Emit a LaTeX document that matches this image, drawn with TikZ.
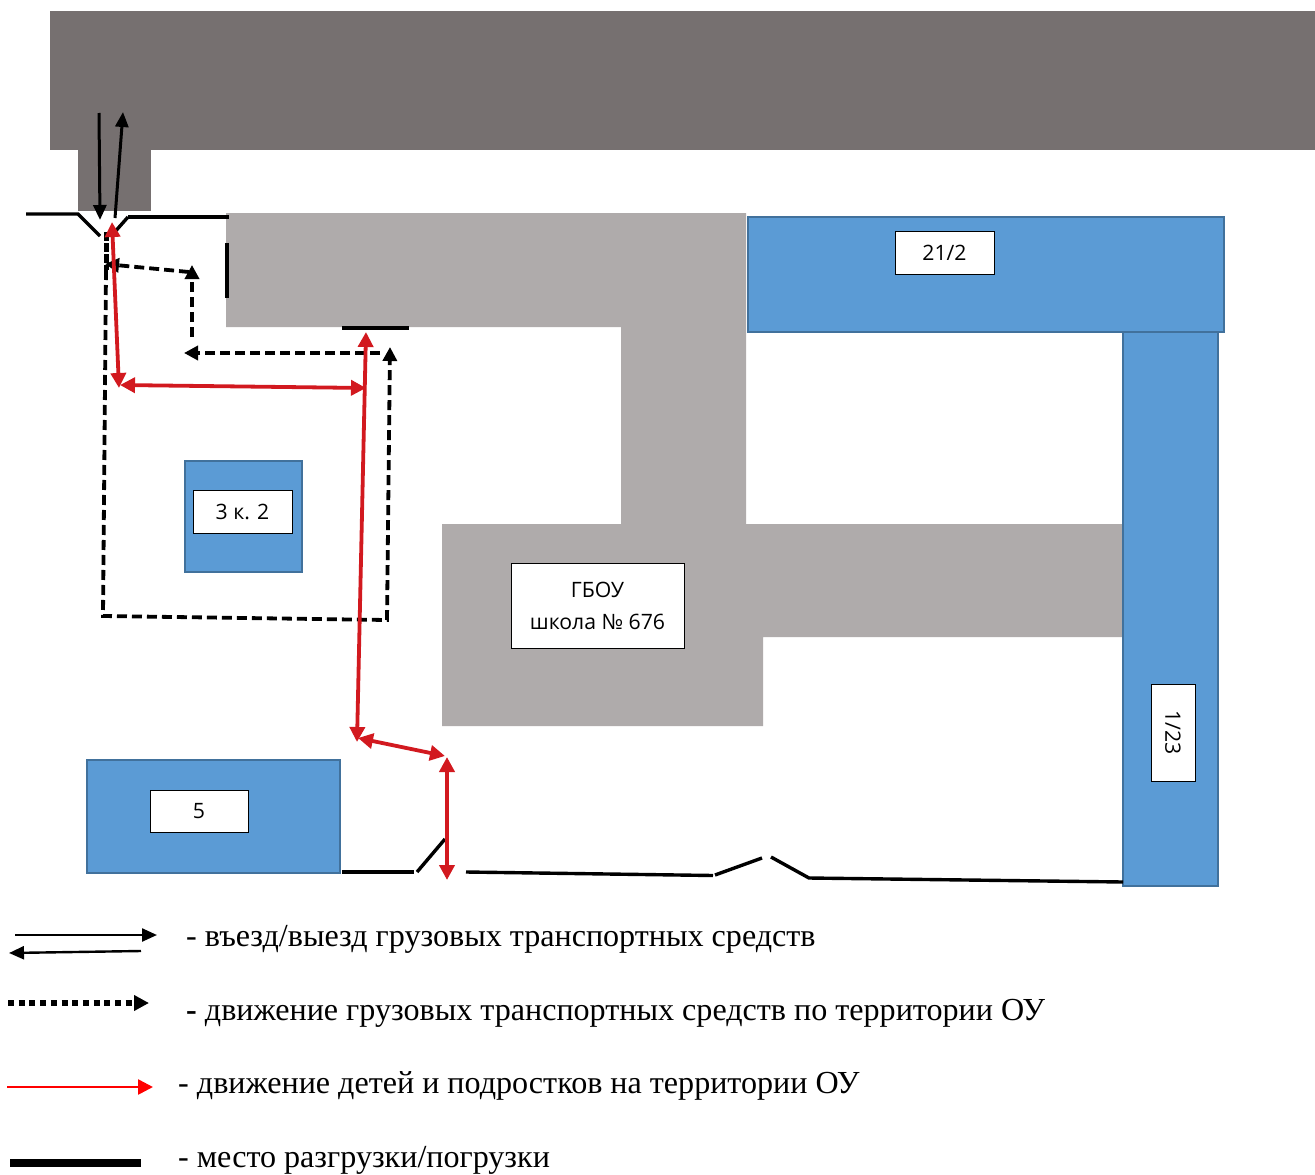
\documentclass[tikz,border=0pt]{standalone}
\usepackage{fontspec}
\setmainfont{Liberation Serif}
\newfontfamily\lblfont{Open Sans}
\usetikzlibrary{arrows.meta}
\definecolor{roadgray}{HTML}{767070}
\definecolor{schoolgray}{HTML}{AFABAB}
\definecolor{houseblue}{HTML}{5B9BD5}
\definecolor{houseedge}{HTML}{41719C}
\definecolor{kidred}{HTML}{D2191F}
\tikzset{%
    lbl/.style={draw=black,line width=1pt,fill=white,inner sep=0pt,align=center,font=\lblfont\fontsize{21.2}{32}\selectfont},
    house/.style={fill=houseblue,draw=houseedge,line width=1.6pt},
    wall/.style={line width=3.4pt},
    dock/.style={line width=4.6pt},
    lgd/.style={anchor=west,inner sep=0pt,font=\fontsize{32.1}{38}\selectfont}
}
\begin{document}
\begin{tikzpicture}[
            x=1pt,y=-1pt,
            truck/.style={line width=3pt,-{Triangle[length=15pt,width=13pt]}},
            route/.style={line width=3.8pt,dash pattern=on 10pt off 5pt,-{Triangle[length=14pt,width=14pt]}},
            kid/.style={line width=3.8pt,color=kidred,{Triangle[length=15pt,width=15pt]}-{Triangle[length=15pt,width=15pt]}}
            ]
            \useasboundingbox (0,0) rectangle (1315,1175);
            \fill[roadgray] (50,11) rectangle (1315,150);
            \fill[roadgray] (78,150) rectangle (151,211);
            \fill[schoolgray] (226,213) -- (746,213) -- (746,524) -- (1123,524) -- (1123,637) -- (763,637)
                -- (763,726) -- (442,726) -- (442,524) -- (621,524) -- (621,327) -- (226,327) -- cycle;
            \draw[house] (748,217) rectangle (1224,332);
            \draw[house] (1123,332) rectangle (1218,886);
            \draw[house] (185,461) rectangle (302,572);
            \draw[house] (87,760) rectangle (340,873);
            \node[lbl,minimum width=99pt,minimum height=43pt] (h21) at (944.5,252.5){\raisebox{-3pt}{21/2}};
            \node[lbl,minimum width=99pt,minimum height=43pt] (h3) at (242.5,511.5){\raisebox{-3pt}{3 к. 2}};
            \node[lbl,minimum width=98pt,minimum height=42pt] (h5) at (199,811){\raisebox{-3pt}{5}};
            \node[lbl,minimum width=97pt,minimum height=44pt,rotate=-90] (h1) at (1173,732.5){1/23};
            \node[lbl,minimum width=173pt,minimum height=85pt] (gbou) at (597.5,605.5){ГБОУ\\школа № 676};

            \coordinate (f1) at (26,214);
            \coordinate (f2) at (78,214);
            \coordinate (f3) at (100,236);
            \coordinate (f4) at (113,234);
            \coordinate (f5) at (128,217);
            \coordinate (f6) at (229,217);
            \coordinate (d1) at (227,243);
            \coordinate (d2) at (227,298);
            \coordinate (d3) at (342,328);
            \coordinate (d4) at (409,328);
            \draw[wall] (f1) -- (f2) -- (f3);
            \draw[wall] (f4) -- (f5);
            \draw[dock] (f5) -- (f6);
            \draw[dock] (d1) -- (d2);
            \draw[dock] (d3) -- (d4);

            \coordinate (b1) at (342,872);
            \coordinate (b2) at (414,872);
            \coordinate (b3) at (417,872);
            \coordinate (b4) at (445,839);
            \coordinate (b5) at (466,872);
            \coordinate (b6) at (713,875.5);
            \coordinate (b7) at (715,875);
            \coordinate (b8) at (762,858);
            \coordinate (b9) at (771,857);
            \coordinate (b10) at (809,878);
            \coordinate (b11) at (1123,882);
            \draw[wall] (b1) -- (b2);
            \draw[wall] (b3) -- (b4);
            \draw[wall] (b5) -- (b6);
            \draw[wall] (b7) -- (b8);
            \draw[wall] (b9) -- (b10) -- (b11);

            \coordinate (t1) at (99,113);
            \coordinate (t2) at (100,220);
            \coordinate (t3) at (115,218);
            \coordinate (t4) at (123,112);
            \draw[truck] (t1) -- (t2);
            \draw[truck] (t3) -- (t4);

            \coordinate (r1) at (106,232);
            \coordinate (r2) at (106,270);
            \coordinate (r3) at (103,616);
            \coordinate (r4) at (387,620);
            \coordinate (r5) at (390,347);
            \coordinate (r6) at (380,353);
            \coordinate (r7) at (184,353);
            \coordinate (r8) at (192,337);
            \coordinate (r9) at (192,265);
            \coordinate (r10) at (189,272);
            \coordinate (r11) at (105,264);
            \draw[line width=5pt,dash pattern=on 9pt off 2pt] (r1) -- (r2);
            \draw[route] (r2) -- (r3) -- (r4) -- (r5);
            \draw[route] (r6) -- (r7);
            \draw[route] (r8) -- (r9);
            \draw[route] (r10) -- (r11);

            \coordinate (k1) at (112,222);
            \coordinate (k2) at (119,388);
            \coordinate (k3) at (120,385);
            \coordinate (k4) at (366,388);
            \coordinate (k5) at (366,332);
            \coordinate (k6) at (357,742);
            \coordinate (k7) at (358,738);
            \coordinate (k8) at (445,756);
            \coordinate (k9) at (447,757);
            \coordinate (k10) at (447,880);
            \draw[kid] (k1) -- (k2);
            \draw[kid] (k3) -- (k4);
            \draw[kid] (k5) -- (k6);
            \draw[kid] (k7) -- (k8);
            \draw[kid] (k9) -- (k10);

            \coordinate (m1) at (15,935);
            \coordinate (m2) at (157,935);
            \coordinate (m3) at (141,951);
            \coordinate (m4) at (9,953);
            \coordinate (m5) at (8,1003);
            \coordinate (m6) at (149,1003);
            \coordinate (m7) at (7,1087);
            \coordinate (m8) at (153,1087);
            \coordinate (m9) at (10,1163);
            \coordinate (m10) at (141,1163);
            \draw[truck,line width=2.4pt] (m1) -- (m2);
            \draw[truck,line width=2.4pt] (m3) -- (m4);
            \draw[line width=5.4pt,dash pattern=on 6pt off 4.7pt,-{Triangle[length=15pt,width=15pt]}] (m5) -- (m6);
            \draw[line width=2.6pt,color=red,-{Triangle[length=15pt,width=15pt]}] (m7) -- (m8);
            \draw[line width=8pt] (m9) -- (m10);

            \node[lgd] (t1a) at (186,939){- въезд/выезд грузовых транспортных средств};
            \node[lgd] (t2a) at (186,1013){\textbf{-} движение грузовых транспортных средств по территории ОУ};
            \node[lgd] (t3a) at (178,1086){- движение детей и подростков на территории ОУ};
            \node[lgd] (t4a) at (178,1160){- место разгрузки/погрузки};
        \end{tikzpicture}
\end{document}
